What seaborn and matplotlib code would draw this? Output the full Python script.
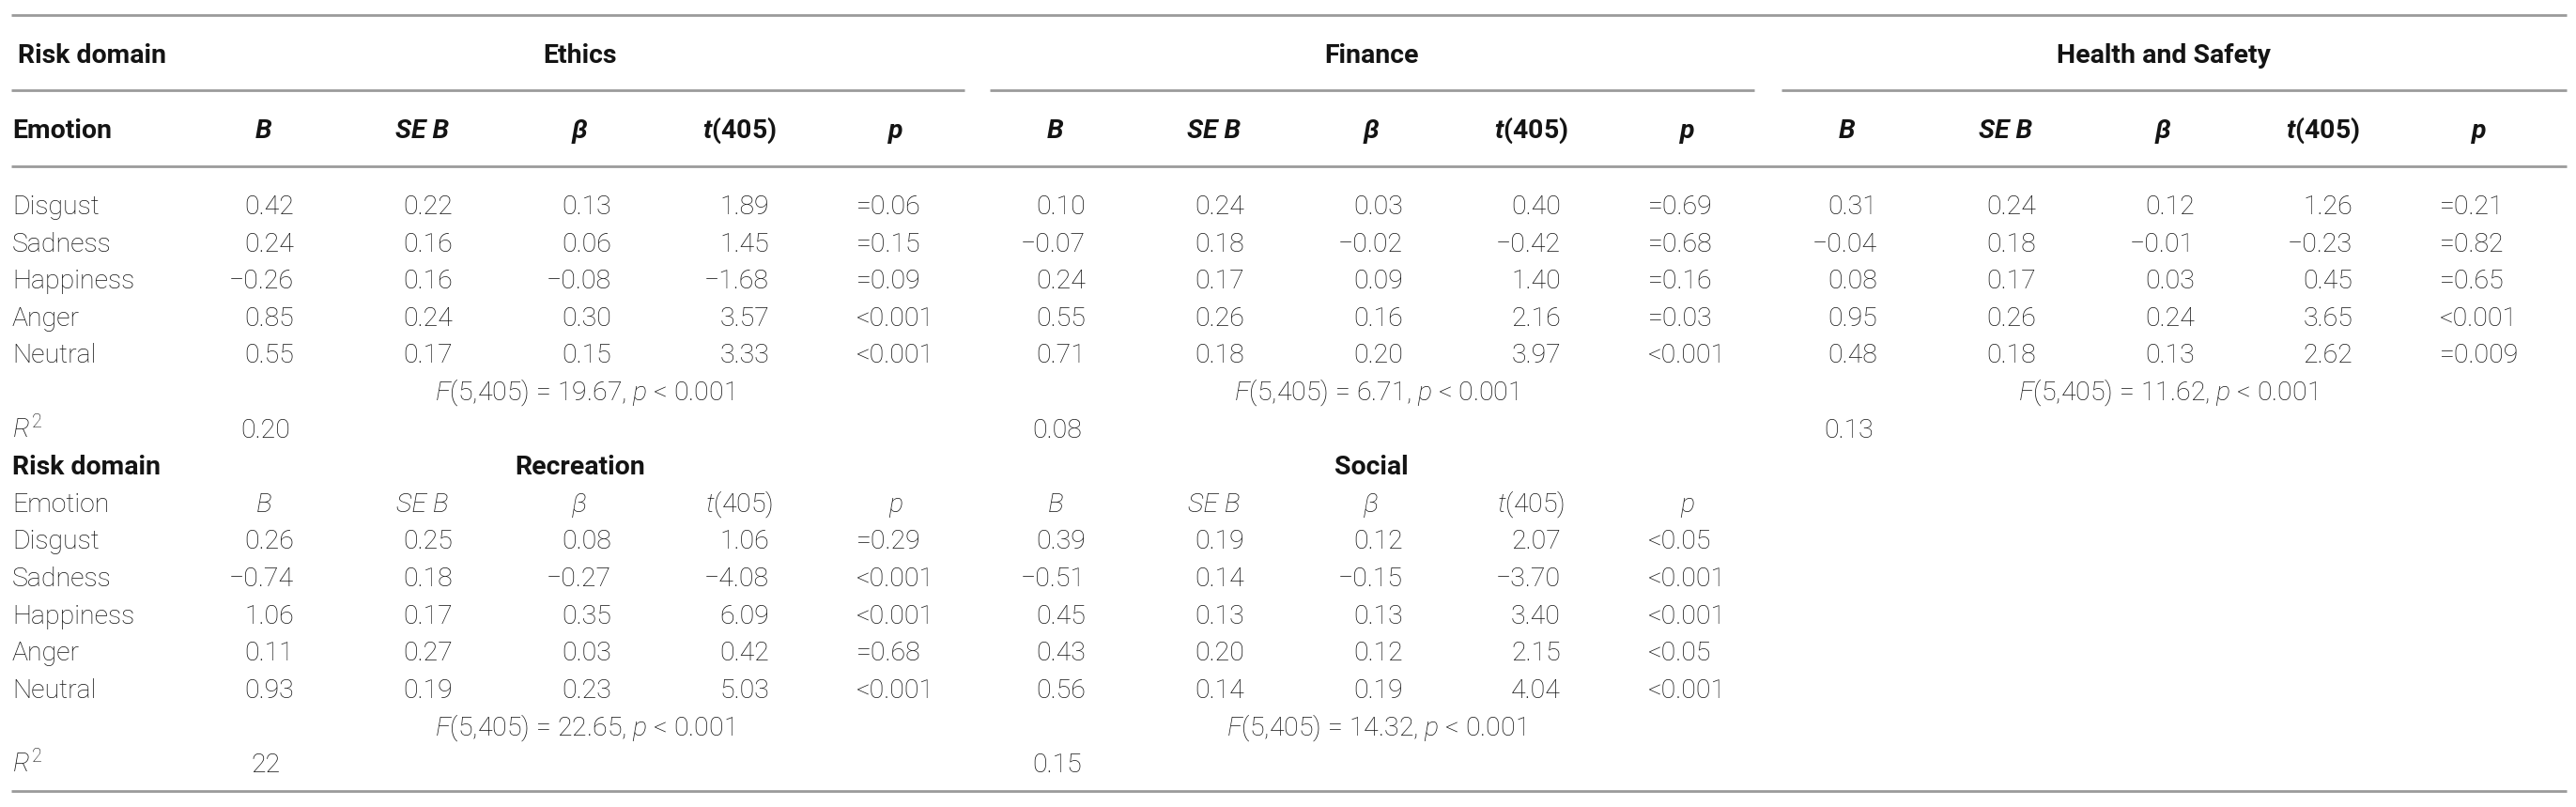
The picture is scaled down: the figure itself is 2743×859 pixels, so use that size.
import numpy as np
import seaborn as sns
import matplotlib.pyplot as plt

# valores de la tabla (regresion por dominio de riesgo)
emotions = ["Disgust", "Sadness", "Happiness", "Anger", "Neutral"]
col_heads = ["B", "SE B", "β", "t(405)", "p"]

top_domains = ["Ethics", "Finance", "Health and Safety"]
bottom_domains = ["Recreation", "Social"]

ethics_B = [0.42, 0.24, -0.26, 0.85, 0.55]
ethics_SE = [0.22, 0.16, 0.16, 0.24, 0.17]
ethics_beta = [0.13, 0.06, -0.08, 0.30, 0.15]
ethics_t = [1.89, 1.45, -1.68, 3.57, 3.33]
ethics_p = ["=0.06", "=0.15", "=0.09", "<0.001", "<0.001"]

finance_B = [0.10, -0.07, 0.24, 0.55, 0.71]
finance_SE = [0.24, 0.18, 0.17, 0.26, 0.18]
finance_beta = [0.03, -0.02, 0.09, 0.16, 0.20]
finance_t = [0.40, -0.42, 1.40, 2.16, 3.97]
finance_p = ["=0.69", "=0.68", "=0.16", "=0.03", "<0.001"]

health_B = [0.31, -0.04, 0.08, 0.95, 0.48]
health_SE = [0.24, 0.18, 0.17, 0.26, 0.18]
health_beta = [0.12, -0.01, 0.03, 0.24, 0.13]
health_t = [1.26, -0.23, 0.45, 3.65, 2.62]
health_p = ["=0.21", "=0.82", "=0.65", "<0.001", "=0.009"]

recreation_B = [0.26, -0.74, 1.06, 0.11, 0.93]
recreation_SE = [0.25, 0.18, 0.17, 0.27, 0.19]
recreation_beta = [0.08, -0.27, 0.35, 0.03, 0.23]
recreation_t = [1.06, -4.08, 6.09, 0.42, 5.03]
recreation_p = ["=0.29", "<0.001", "<0.001", "=0.68", "<0.001"]

social_B = [0.39, -0.51, 0.45, 0.43, 0.56]
social_SE = [0.19, 0.14, 0.13, 0.20, 0.14]
social_beta = [0.12, -0.15, 0.13, 0.12, 0.19]
social_t = [2.07, -3.70, 3.40, 2.15, 4.04]
social_p = ["<0.05", "<0.001", "<0.001", "<0.05", "<0.001"]

top_F = ["19.67", "6.71", "11.62"]
top_R2 = ["0.20", "0.08", "0.13"]
bottom_F = ["22.65", "14.32"]
bottom_R2 = ["22", "0.15"]

top_tables = [
    [ethics_B, ethics_SE, ethics_beta, ethics_t, ethics_p],
    [finance_B, finance_SE, finance_beta, finance_t, finance_p],
    [health_B, health_SE, health_beta, health_t, health_p],
]
bottom_tables = [
    [recreation_B, recreation_SE, recreation_beta, recreation_t, recreation_p],
    [social_B, social_SE, social_beta, social_t, social_p],
]

sns.set_theme(style="white")
plt.rcParams['font.family'] = ['Roboto', 'DejaVu Sans']
plt.rcParams['mathtext.fontset'] = 'custom'
plt.rcParams['mathtext.rm'] = 'Roboto:light'
plt.rcParams['mathtext.it'] = 'Roboto:light:italic'
plt.rcParams['mathtext.bf'] = 'Roboto:bold'
if 'mathtext.bfit' in plt.rcParams:
    plt.rcParams['mathtext.bfit'] = 'Roboto:bold:italic'

W, H = 2743, 859
fig = plt.figure(figsize=(W / 100, H / 100), dpi=100)
ax = fig.add_axes([0, 0, 1, 1])
ax.set_xlim(0, W)
ax.set_ylim(H, 0)
ax.axis('off')

TXT = '#141414'
LINE = '#9b9b9b'
FS = 20.5
LIGHT = 'light'

# posiciones de columnas (grupo 0), desplazamiento entre grupos
group_step = 843
val_right = [313, 482, 651, 819]   # B, SE B, beta, t alineados a la derecha
p_left = 912
head_cx = [281, 450, 617, 787, 954]
left_x = 13


def fmt(v):
    return f"{v:.2f}".replace('-', '\u2212')


def row_y(i):
    # linea base de cada fila
    return 228 + 39.6 * i


def head_label(k, bold):
    if k == 3:
        return r'$\mathbfit{t}$(405)' if bold else r'$\mathit{t}$(405)'
    return col_heads[k]


def draw_block(tables, domains, Fs, R2s, r0, head_base, domain_base, bold_heads):
    # encabezados
    ax.text(left_x + (6 if bold_heads else 0), domain_base, "Risk domain", ha='left', va='baseline',
            fontsize=FS, fontweight='bold', color=TXT)
    ax.text(left_x, head_base, "Emotion", ha='left', va='baseline', fontsize=FS,
            fontweight='bold' if bold_heads else LIGHT, color=TXT)
    for g, dom in enumerate(domains):
        off = g * group_step
        cx = (head_cx[0] + head_cx[-1]) / 2 + off
        ax.text(cx, domain_base, dom, ha='center', va='baseline', fontsize=FS,
                fontweight='bold', color=TXT)
        for k in range(5):
            ax.text(head_cx[k] + off, head_base, head_label(k, bold_heads), ha='center',
                    va='baseline', fontsize=FS, color=TXT,
                    fontweight='bold' if bold_heads else LIGHT,
                    fontstyle='normal' if k == 3 else 'italic')
        cols = tables[g]
        for i in range(len(emotions)):
            y = row_y(r0 + i)
            for k in range(4):
                ax.text(val_right[k] + off, y, fmt(cols[k][i]), ha='right', va='baseline',
                        fontsize=FS, color=TXT, fontweight=LIGHT)
            ax.text(p_left + off, y, cols[4][i], ha='left', va='baseline',
                    fontsize=FS, color=TXT, fontweight=LIGHT)
        ax.text(cx + 5, row_y(r0 + 5), r'$\mathit{F}$(5,405) = ' + Fs[g] + r', $\mathit{p}$ < 0.001',
                ha='center', va='baseline', fontsize=FS, color=TXT, fontweight=LIGHT)
        ax.text(head_cx[0] + off + 2, row_y(r0 + 6), R2s[g], ha='center', va='baseline',
                fontsize=FS, color=TXT, fontweight=LIGHT)
    for i, emo in enumerate(emotions):
        ax.text(left_x, row_y(r0 + i), emo, ha='left', va='baseline', fontsize=FS,
                color=TXT, fontweight=LIGHT)
    ax.text(left_x, row_y(r0 + 6), r'$\mathit{R}^2$', ha='left', va='baseline',
            fontsize=FS, color=TXT)


draw_block(top_tables, top_domains, top_F, top_R2, 0, 147, 67, True)
draw_block(bottom_tables, bottom_domains, bottom_F, bottom_R2, 9, row_y(8), row_y(7), False)

# lineas horizontales
lw = 2.0
ax.hlines([15.5, 177, 842], 12, 2733, color=LINE, lw=lw)
ax.hlines([96, 96, 96], [12, 1054, 1897], [1027, 1868, 2733], color=LINE, lw=lw)

fig.savefig("out.png", dpi=100, facecolor='white')
